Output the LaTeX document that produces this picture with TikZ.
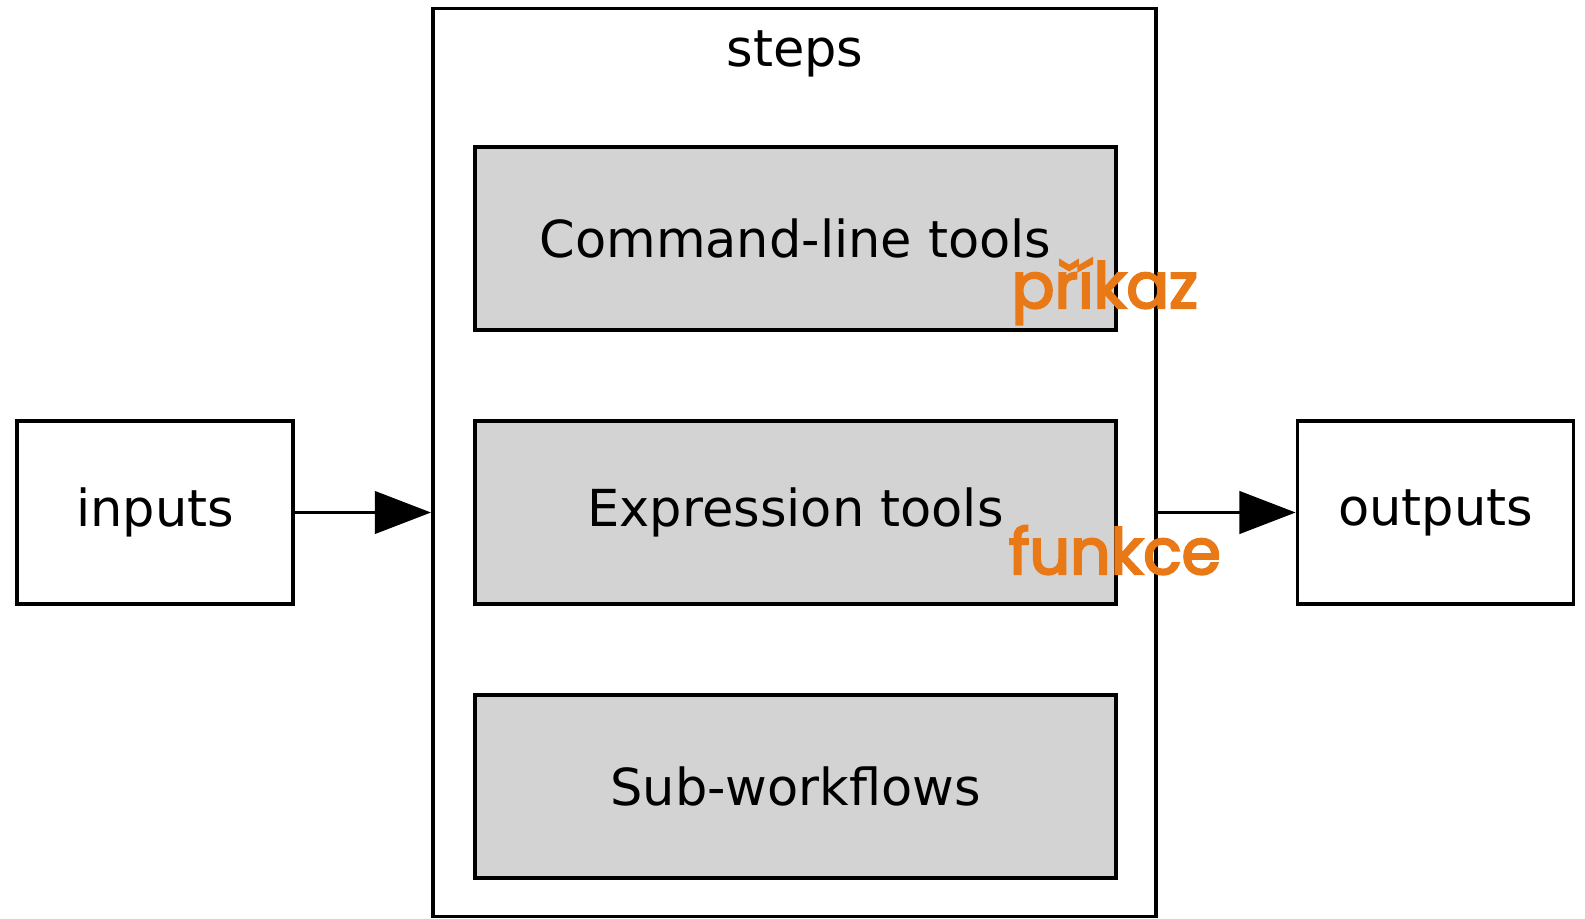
\documentclass[tikz,border=0pt]{standalone}
\usepackage{fontspec}
\setmainfont{DejaVu Sans}
\newfontfamily\tagfont[FakeBold=3.5]{Poppins}
\usetikzlibrary{arrows.meta}
\definecolor{boxGray}{RGB}{211,211,211}
\definecolor{tagOrange}{RGB}{233,120,23}
\newcommand{\BoxText}[1]{{\fontsize{14.5}{16}\selectfont #1}}
\newcommand{\TagText}[1]{{\tagfont\fontsize{18}{20}\selectfont\textcolor{tagOrange}{#1}}}

\begin{document}
\begin{tikzpicture}[x=0.01cm,y=-0.01cm,
  plainbox/.style={draw,line width=1pt,fill=white,minimum width=2.76cm,minimum height=1.83cm,inner sep=0pt},
  toolbox/.style={draw,line width=1.1pt,fill=boxGray,minimum width=6.41cm,minimum height=1.83cm,inner sep=0pt},
  flow/.style={line width=1.1pt,-{Triangle[length=16pt,width=12pt]}}]
\useasboundingbox (0,0) rectangle (1585,918);
\node[draw,line width=1pt,minimum width=7.23cm,minimum height=9.07cm,inner sep=0pt] (steps) at (794.5,462.5) {};
\node (stepsLabel) at (795,54) {\BoxText{steps}};
\node[plainbox] (inputs) at (155,512.5) {\BoxText{inputs}};
\node[plainbox] (outputs) at (1435.5,512.5) {\BoxText{outputs}};
\node[toolbox] (cmdTools) at (795.5,238.5) {\BoxText{Command-line tools}};
\node[toolbox] (exprTools) at (795.5,512.5) {\BoxText{Expression tools}};
\node[toolbox] (subFlows) at (795.5,786.5) {\BoxText{Sub-workflows}};
\draw[flow] (inputs.east) -- (inputs.east -| steps.west);
\draw[flow] (outputs.west -| steps.east) -- (outputs.west);
% orange tags
\node[anchor=base west,inner sep=0pt] (cmdTag) at (1011,308) {\TagText{příkaz}};
\node[anchor=base west,inner sep=0pt] (exprTag) at (1008,574) {\TagText{funkce}};
\end{tikzpicture}
\end{document}
